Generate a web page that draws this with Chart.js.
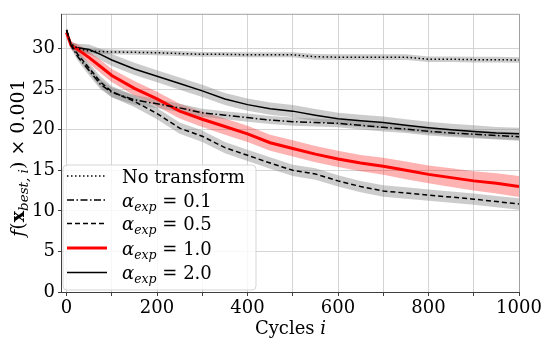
<!DOCTYPE html>
<html>
<head>
<meta charset="utf-8">
<script src="https://cdn.jsdelivr.net/npm/chart.js@4.4.0/dist/chart.umd.min.js"></script>
<style>body{margin:0;background:#fff}</style>
</head>
<body>
<canvas id="chart" width="550" height="346"></canvas>
<script>
// cycle positions where values were read
var cycles = [0, 10, 25, 50, 75, 100, 150, 200, 250, 300, 350, 400, 450, 500, 550, 600, 650, 700, 750, 800, 850, 900, 950, 1000];

// mean best value (x 0.001)
var noTransform = [32.3, 30.6, 30.0, 29.7, 29.65, 29.6, 29.55, 29.5, 29.4, 29.3, 29.3, 29.25, 29.25, 29.25, 29.0, 28.95, 28.95, 28.95, 28.95, 28.7, 28.7, 28.65, 28.65, 28.6];
var alpha01 = [32.3, 30.4, 29.0, 27.3, 25.6, 24.6, 23.7, 23.2, 22.7, 22.1, 21.8, 21.5, 21.2, 21.0, 20.9, 20.8, 20.55, 20.3, 20.1, 19.8, 19.6, 19.45, 19.3, 19.15];
var alpha05 = [32.3, 30.5, 29.3, 27.6, 25.9, 24.7, 23.5, 22.0, 20.2, 19.2, 17.8, 16.85, 15.9, 15.0, 14.55, 13.7, 13.0, 12.45, 12.2, 11.95, 11.7, 11.45, 11.15, 10.85];
var alpha10 = [32.0, 30.4, 29.9, 28.9, 27.8, 26.7, 25.1, 23.8, 22.3, 21.3, 20.4, 19.5, 18.4, 17.7, 17.0, 16.4, 15.9, 15.5, 15.0, 14.5, 14.1, 13.7, 13.4, 13.0];
var alpha20 = [32.2, 30.4, 30.1, 29.9, 29.3, 28.6, 27.5, 26.6, 25.7, 24.8, 23.8, 23.1, 22.6, 22.3, 21.8, 21.35, 21.1, 20.9, 20.55, 20.25, 20.0, 19.8, 19.6, 19.5];

// half width of the shaded band
var noTransformSpread = [0.2, 0.25, 0.3, 0.3, 0.3, 0.3, 0.3, 0.3, 0.3, 0.3, 0.3, 0.3, 0.3, 0.3, 0.35, 0.35, 0.35, 0.35, 0.35, 0.35, 0.35, 0.35, 0.35, 0.35];
var alpha01Spread = [0.3, 0.4, 0.5, 0.6, 0.6, 0.6, 0.6, 0.55, 0.5, 0.5, 0.5, 0.5, 0.5, 0.5, 0.5, 0.5, 0.5, 0.5, 0.5, 0.5, 0.5, 0.5, 0.5, 0.5];
var alpha05Spread = [0.3, 0.4, 0.5, 0.6, 0.7, 0.7, 0.7, 0.7, 0.7, 0.7, 0.7, 0.7, 0.7, 0.7, 0.7, 0.7, 0.7, 0.7, 0.7, 0.7, 0.7, 0.7, 0.7, 0.7];
var alpha10Spread = [0.3, 0.5, 0.6, 0.7, 0.8, 0.8, 0.9, 0.9, 0.9, 0.95, 1.0, 1.0, 1.0, 1.0, 1.0, 1.0, 1.0, 1.05, 1.1, 1.1, 1.15, 1.2, 1.25, 1.3];
var alpha20Spread = [0.3, 0.4, 0.5, 0.6, 0.7, 0.75, 0.75, 0.75, 0.75, 0.75, 0.75, 0.75, 0.75, 0.75, 0.75, 0.75, 0.75, 0.75, 0.75, 0.75, 0.75, 0.75, 0.75, 0.75];

// tick positions (grid every 100, label every 200)
var xGrid = [0, 100, 200, 300, 400, 500, 600, 700, 800, 900, 1000];
var xTicks = [0, 200, 400, 600, 800, 1000];
var yTicks = [0, 5, 10, 15, 20, 25, 30];

var FONT = "'DejaVu Serif', serif";

function pts(vals, spread, sign) {
    return cycles.map(function (c, i) {
        return { x: c, y: vals[i] + sign * (spread ? spread[i] : 0) };
    });
}

var series = [
    { label: 'No transform', vals: noTransform, spread: noTransformSpread, color: '#000', width: 1.5, dash: [1.5, 2.5], band: 'rgba(128,128,128,0.4)', legend: null },
    { label: 'a0.1', vals: alpha01, spread: alpha01Spread, color: '#000', width: 1.5, dash: [7, 2.5, 1.5, 2.5], band: 'rgba(128,128,128,0.4)', legend: 0.1 },
    { label: 'a0.5', vals: alpha05, spread: alpha05Spread, color: '#000', width: 1.5, dash: [5, 3], band: 'rgba(128,128,128,0.4)', legend: 0.5 },
    { label: 'a1.0', vals: alpha10, spread: alpha10Spread, color: '#ff0000', width: 3, dash: [], band: 'rgba(255,0,0,0.3)', legend: 1.0 },
    { label: 'a2.0', vals: alpha20, spread: alpha20Spread, color: '#000', width: 1.5, dash: [], band: 'rgba(128,128,128,0.4)', legend: 2.0 }
];

var datasets = [];
// lines first (lowest order -> drawn on top)
series.forEach(function (s) {
    datasets.push({
        label: s.label, data: pts(s.vals, null, 0), borderColor: s.color, borderWidth: s.width,
        borderDash: s.dash, pointRadius: 0, fill: false, tension: 0, order: 0
    });
});
series.forEach(function (s) {
    datasets.push({
        label: s.label + ' hi', data: pts(s.vals, s.spread, 1), borderWidth: 0, pointRadius: 0,
        backgroundColor: s.band, fill: '+1', order: 1
    });
    datasets.push({
        label: s.label + ' lo', data: pts(s.vals, s.spread, -1), borderWidth: 0, pointRadius: 0,
        fill: false, order: 1
    });
});

// draw a run of text pieces with different fonts / offsets
function richWidth(ctx, parts) {
    var w = 0;
    parts.forEach(function (p) { ctx.font = p.font; w += ctx.measureText(p.t).width; });
    return w;
}
function drawRich(ctx, x, y, parts) {
    parts.forEach(function (p) {
        ctx.font = p.font;
        ctx.fillText(p.t, x, y + (p.dy || 0));
        x += ctx.measureText(p.t).width;
    });
}
function alphaLabel(v) {
    return [
        { t: 'α', font: 'italic 18px ' + FONT },
        { t: 'exp', font: 'italic 12.5px ' + FONT, dy: 4 },
        { t: ' = ', font: '18px ' + FONT },
        { t: v.toFixed(1), font: '18px ' + FONT }
    ];
}

var decor = {
    id: 'decor',
    beforeDraw: function (chart) {
        var ctx = chart.ctx;
        ctx.save();
        ctx.fillStyle = '#fff';
        ctx.fillRect(0, 0, chart.width, chart.height);
        ctx.restore();
    },
    afterDraw: function (chart) {
        var ctx = chart.ctx, a = chart.chartArea;
        ctx.save();
        // frame
        ctx.lineWidth = 1;
        ctx.strokeStyle = '#a0a0a0';
        ctx.beginPath();
        ctx.moveTo(a.left, a.top + 0.5); ctx.lineTo(a.right + 0.5, a.top + 0.5); ctx.lineTo(a.right + 0.5, a.bottom);
        ctx.stroke();
        ctx.strokeStyle = '#404040';
        ctx.beginPath();
        ctx.moveTo(a.left - 0.5, a.top); ctx.lineTo(a.left - 0.5, a.bottom + 0.5); ctx.lineTo(a.right + 0.5, a.bottom + 0.5);
        ctx.stroke();

        // legend
        var lx = 63, ly = 165, lw = 193, lh = 125, r = 4;
        ctx.beginPath();
        ctx.moveTo(lx + r, ly);
        ctx.arcTo(lx + lw, ly, lx + lw, ly + lh, r);
        ctx.arcTo(lx + lw, ly + lh, lx, ly + lh, r);
        ctx.arcTo(lx, ly + lh, lx, ly, r);
        ctx.arcTo(lx, ly, lx + lw, ly, r);
        ctx.closePath();
        ctx.fillStyle = 'rgba(255,255,255,0.8)';
        ctx.fill();
        ctx.strokeStyle = 'rgba(210,210,210,0.9)';
        ctx.stroke();

        var rows = [176, 200, 223.5, 248, 272.5];
        ctx.fillStyle = '#000';
        ctx.textBaseline = 'alphabetic';
        ctx.textAlign = 'left';
        series.forEach(function (s, i) {
            var y = rows[i];
            ctx.strokeStyle = s.color;
            ctx.lineWidth = s.width;
            ctx.setLineDash(s.dash);
            ctx.beginPath();
            ctx.moveTo(67, y); ctx.lineTo(107, y);
            ctx.stroke();
            ctx.setLineDash([]);
            var parts = s.legend === null ? [{ t: 'No transform', font: '18px ' + FONT }] : alphaLabel(s.legend);
            drawRich(ctx, 122, y + 6.5, parts);
        });

        // axis titles
        var xt = [
            { t: 'Cycles ', font: '18px ' + FONT },
            { t: 'i', font: 'italic 18px ' + FONT }
        ];
        var cx = (a.left + a.right) / 2;
        drawRich(ctx, cx - richWidth(ctx, xt) / 2, 334, xt);

        var yt = [
            { t: 'f', font: 'italic 19px ' + FONT },
            { t: '(', font: '19px ' + FONT },
            { t: 'x', font: 'bold 19px ' + FONT },
            { t: 'best, i', font: 'italic 13.5px ' + FONT, dy: 4 },
            { t: ')', font: '19px ' + FONT },
            { t: ' \u00d7 0.001', font: '19px ' + FONT }
        ];
        ctx.translate(24, 158);
        ctx.rotate(-Math.PI / 2);
        drawRich(ctx, -richWidth(ctx, yt) / 2, 0, yt);
        ctx.restore();
    }
};

new Chart(document.getElementById('chart').getContext('2d'), {
    type: 'line',
    data: { datasets: datasets },
    options: {
        responsive: false,
        animation: false,
        layout: { padding: { top: 6, right: 31, left: 0, bottom: 0 } },
        plugins: { legend: { display: false }, tooltip: { enabled: false } },
        scales: {
            x: {
                type: 'linear', min: -10, max: 1000,
                afterFit: function (s) { s.height = 54; },
                afterBuildTicks: function (s) { s.ticks = xGrid.map(function (v) { return { value: v }; }); },
                border: { display: false },
                grid: { color: '#d4d4d4', tickColor: '#404040', tickLength: 4, lineWidth: 1 },
                ticks: {
                    padding: 2, maxRotation: 0, autoSkip: false,
                    color: '#000', font: { family: FONT, size: 18 },
                    callback: function (v) { return xTicks.indexOf(v) >= 0 ? String(v) : ''; }
                }
            },
            y: {
                min: 0, max: 34.3,
                afterFit: function (s) { s.width = 62; },
                afterBuildTicks: function (s) { s.ticks = yTicks.map(function (v) { return { value: v }; }); },
                border: { display: false },
                grid: { color: '#d4d4d4', tickColor: '#404040', tickLength: 4, lineWidth: 1 },
                ticks: {
                    padding: 3, autoSkip: false,
                    color: '#000', font: { family: FONT, size: 18 },
                    callback: function (v) { return yTicks.indexOf(v) >= 0 ? String(v) : ''; }
                }
            }
        }
    },
    plugins: [decor]
});
</script>
</body>
</html>
